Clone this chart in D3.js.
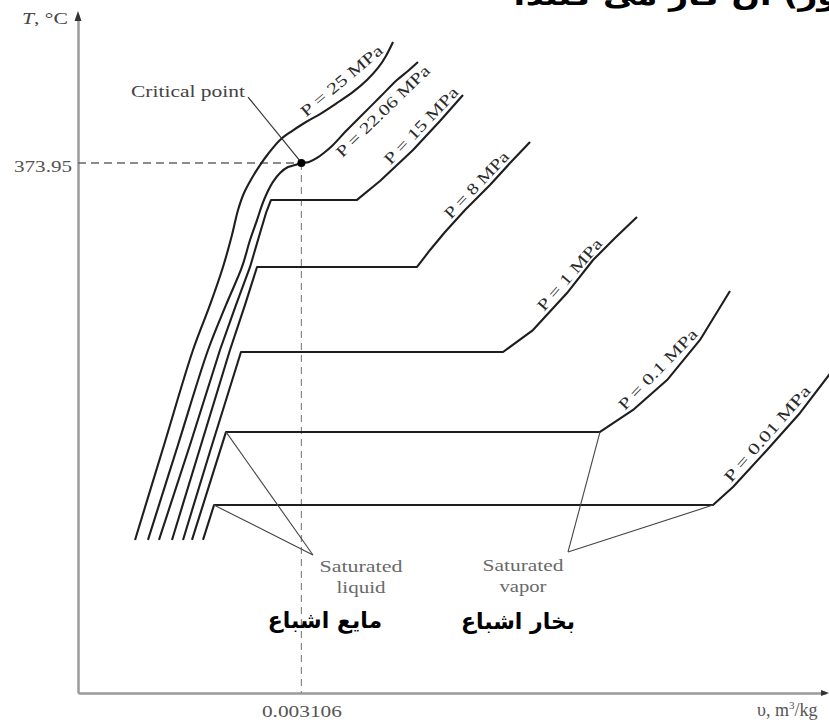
<!DOCTYPE html>
<html><head><meta charset="utf-8">
<script src="https://cdn.jsdelivr.net/npm/d3@7"></script>
<style>body{margin:0;background:#fff} svg{display:block}</style>
</head><body>
<svg id="c" width="829" height="722"></svg>
<script>
// ---- data: schematic T-v diagram of water (v in 10^-3 m^3/kg, T in °C) ----
const isobarLabels = ["P = 25 MPa","P = 22.06 MPa","P = 15 MPa","P = 8 MPa","P = 1 MPa","P = 0.1 MPa","P = 0.01 MPa"];
const isobar25 = [[0.793,108.0],[1.196,175.0],[1.599,242.0],[1.835,273.8],[2.016,300.6],[2.141,323.2],[2.225,340.8],[2.308,352.8],[2.419,363.4],[2.531,372.5],[2.642,380.3],[2.809,390.2],[2.975,396.5],[3.170,402.9],[3.365,408.5],[3.601,416.3],[3.824,424.1],[4.018,432.5],[4.171,441.0],[4.282,449.5],[4.380,459.3]];
const isobar2206 = [[0.973,108.0],[1.390,175.0],[1.808,242.0],[2.058,273.8],[2.280,300.6],[2.392,319.6],[2.489,333.7],[2.558,344.3],[2.628,352.8],[2.711,360.6],[2.809,366.9],[2.920,371.1],[3.017,372.5],[3.106,373.95],[3.212,374.7],[3.323,377.5],[3.434,381.7],[3.546,386.7],[3.726,396.5],[3.921,406.4],[4.199,420.5],[4.435,432.5],[4.588,438.9],[4.727,445.2]];
const isobar15 = [[1.126,108.0],[1.557,175.0],[1.974,242.0],[2.197,273.8],[2.392,300.6],[2.531,324.6],[2.614,338.7],[2.684,347.9],[3.879,347.9],[4.199,361.3],[4.658,383.1],[5.033,403.6],[5.353,421.9]];
const isobar8 = [[1.307,108.0],[1.710,175.0],[2.113,242.0],[2.322,273.8],[2.489,300.6],[4.714,300.6],[4.895,312.6],[5.103,325.3],[5.381,340.8],[5.728,358.4],[6.007,373.9],[6.285,388.8]];
const isobar1 = [[1.460,108.0],[1.863,175.0],[2.266,240.6],[5.909,240.6],[6.326,256.1],[6.799,282.2],[7.161,305.5],[7.466,321.0],[7.772,335.9]];
const isobar01 = [[1.585,108.0],[2.058,184.2],[7.258,184.2],[7.717,199.7],[8.190,220.8],[8.648,249.1],[9.065,283.6]];
const isobar001 = [[1.738,108.0],[1.891,132.6],[8.829,132.6],[9.107,145.4],[9.580,171.5],[10.039,197.6],[10.442,224.4],[10.664,240.6]];
const criticalPoint = [3.106, 373.95];
const xTicks = [3.106];          // shown as 0.003106 m^3/kg
const yTicks = [373.95];
const criticalLabelAnchor = [2.364, 420.5];
const satLiquidAnchor = [3.267, 97.4];
const satVaporAnchor = [6.813, 99.5];

// ---- layout ----
const svg = d3.select("#c");
svg.append("rect").attr("width",829).attr("height",722).attr("fill","#fff");
const x = d3.scaleLinear().domain([0, 10.4]).range([78, 826]);
const y = d3.scaleLinear().domain([0, 478.38]).range([693, 15]);
const serif = "'Liberation Serif','Times New Roman',serif";
const lineSharp = d3.line().x(d => x(d[0])).y(d => y(d[1]));
const lineSmooth = d3.line().x(d => x(d[0])).y(d => y(d[1])).curve(d3.curveCatmullRom.alpha(0.5));

// axes
const gx = svg.append("g").attr("transform", `translate(0,${y(0)})`)
  .call(d3.axisBottom(x).tickValues(xTicks).tickSize(0).tickSizeOuter(0).tickPadding(12)
        .tickFormat(d => d3.format(".6f")(d / 1000)));
gx.select(".domain").attr("stroke", "#9a9a9a").attr("stroke-width", 2.5);
gx.selectAll("text").attr("font-family", serif).attr("font-size", 17).attr("fill", "#555")
  .attr("textLength", 80).attr("lengthAdjust", "spacingAndGlyphs");
const gy = svg.append("g").attr("transform", `translate(${x(0)},0)`)
  .call(d3.axisLeft(y).tickValues(yTicks).tickSize(0).tickSizeOuter(0).tickPadding(6)
        .tickFormat(d3.format(".2f")));
gy.select(".domain").attr("stroke", "#9a9a9a").attr("stroke-width", 2.5);
gy.selectAll("text").attr("font-family", serif).attr("font-size", 17).attr("fill", "#555")
  .attr("dy", "0.5em").attr("textLength", 58).attr("lengthAdjust", "spacingAndGlyphs");
svg.selectAll(".tick line").remove();

// arrowheads
const ax0 = x(0), ayTop = y.range()[1];
svg.append("path").attr("d", `M${ax0},${ayTop-4}L${ax0-3.5},${ayTop+6}L${ax0+3.5},${ayTop+6}Z`).attr("fill", "#333");
const axRight = x.range()[1], ay0 = y(0);
svg.append("path").attr("d", `M${axRight+3},${ay0}L${axRight-5},${ay0-3}L${axRight-5},${ay0+3}Z`).attr("fill", "#333");

// axis titles
const tT = svg.append("text").attr("x", 22).attr("y", 24).attr("font-family", serif).attr("font-size", 16).attr("fill", "#444")
  .attr("textLength", 46).attr("lengthAdjust", "spacingAndGlyphs");
tT.append("tspan").attr("font-style", "italic").text("T");
tT.append("tspan").text(", °C");
const tV = svg.append("text").attr("x", 757).attr("y", 716).attr("font-family", serif).attr("font-size", 18).attr("fill", "#555");
tV.append("tspan").text("υ");
tV.append("tspan").text(", m");
tV.append("tspan").attr("font-size", 11).attr("dy", -7).text("3");
tV.append("tspan").attr("dy", 7).text("/kg");

// dashed guides to the critical point
svg.append("line").attr("x1", x(0)).attr("x2", x(criticalPoint[0])).attr("y1", y(criticalPoint[1])).attr("y2", y(criticalPoint[1]))
  .attr("stroke", "#666").attr("stroke-width", 1.5).attr("stroke-dasharray", "8,5");
svg.append("line").attr("x1", x(criticalPoint[0])).attr("x2", x(criticalPoint[0])).attr("y1", y(criticalPoint[1])).attr("y2", y(0))
  .attr("stroke", "#888").attr("stroke-width", 1.2).attr("stroke-dasharray", "7,5");

// isobars (supercritical ones drawn smooth)
const isobars = [isobar25, isobar2206, isobar15, isobar8, isobar1, isobar01, isobar001];
const paths = isobars.map((d, i) => svg.append("path").datum(d).attr("d", i < 2 ? lineSmooth : lineSharp)
  .attr("fill", "none").attr("stroke", "#1e1e1e").attr("stroke-width", 2.1).attr("stroke-linejoin", "round").node());

// isobar labels: [distance from curve end, baseline offset, text length]
const labelCfg = [[66,-4,102],[57,16,124],[51,-4,100],[68,-4,86],[88,-4,90],[108,-4,106],[113,-4,122]];
paths.forEach((p, i) => {
  const [dist, off, len] = labelCfg[i];
  const L = p.getTotalLength();
  const a = p.getPointAtLength(Math.max(0, L - dist - len / 2));
  const b = p.getPointAtLength(Math.min(L, L - dist + len / 2));
  const ang = Math.atan2(b.y - a.y, b.x - a.x) * 180 / Math.PI;
  svg.append("text").attr("transform", `translate(${(a.x + b.x) / 2},${(a.y + b.y) / 2}) rotate(${ang})`)
    .attr("text-anchor", "middle").attr("dy", off).attr("font-family", serif).attr("font-size", 16)
    .attr("fill", "#2a2a2a").attr("textLength", len).attr("lengthAdjust", "spacingAndGlyphs").text(isobarLabels[i]);
});

// critical point
svg.append("line").attr("x1", x(criticalLabelAnchor[0])).attr("y1", y(criticalLabelAnchor[1]))
  .attr("x2", x(criticalPoint[0]) - 2).attr("y2", y(criticalPoint[1]) - 3).attr("stroke", "#333").attr("stroke-width", 1.2);
svg.append("circle").attr("cx", x(criticalPoint[0])).attr("cy", y(criticalPoint[1])).attr("r", 4).attr("fill", "#000");
svg.append("text").attr("x", x(criticalLabelAnchor[0]) - 3).attr("y", y(criticalLabelAnchor[1]))
  .attr("text-anchor", "end").attr("font-family", serif).attr("font-size", 16).attr("fill", "#444")
  .attr("textLength", 114).attr("lengthAdjust", "spacingAndGlyphs").text("Critical point");

// saturated liquid / vapor leaders
const leader = (from, to) => svg.append("line").attr("x1", x(from[0])).attr("y1", y(from[1])).attr("x2", x(to[0])).attr("y2", y(to[1]))
  .attr("stroke", "#444").attr("stroke-width", 1.1);
leader(satLiquidAnchor, isobar01[1]); leader(satLiquidAnchor, isobar001[1]);
leader(satVaporAnchor, isobar01[2]); leader(satVaporAnchor, isobar001[2]);

function note(anchor, dx, lines, persian) {
  const ax = x(anchor[0]), ay = y(anchor[1]);
  lines.forEach(([t, dy, len]) => svg.append("text").attr("x", ax + dx).attr("y", ay + dy).attr("text-anchor", "middle")
    .attr("font-family", serif).attr("font-size", 16).attr("fill", "#6a6a6a")
    .attr("textLength", len).attr("lengthAdjust", "spacingAndGlyphs").text(t));
  svg.append("text").attr("x", ax + persian[1]).attr("y", ay + persian[2]).attr("text-anchor", "middle")
    .attr("font-family", "'DejaVu Sans', sans-serif").attr("font-weight", "bold").attr("font-size", 22).attr("fill", "#000")
    .attr("direction", "rtl").text(persian[0]);
}
note(satLiquidAnchor, 48, [["Saturated", 17, 83], ["liquid", 38, 49]], ["مایع اشباع", 12, 73]);
note(satVaporAnchor, -45, [["Saturated", 19, 81], ["vapor", 40, 47]], ["بخار اشباع", -50, 77]);

// cropped caption fragment at the top edge (cut off in the reference too)
svg.append("text").attr("x", 838).attr("y", 5).attr("direction", "rtl").attr("text-anchor", "start")
  .attr("font-family", "'DejaVu Sans', sans-serif").attr("font-weight", "bold").attr("font-size", 28).attr("fill", "#000")
  .attr("textLength", 325).attr("lengthAdjust", "spacingAndGlyphs")
  .text("ور) آن کار می کنند.");
</script>
</body></html>
